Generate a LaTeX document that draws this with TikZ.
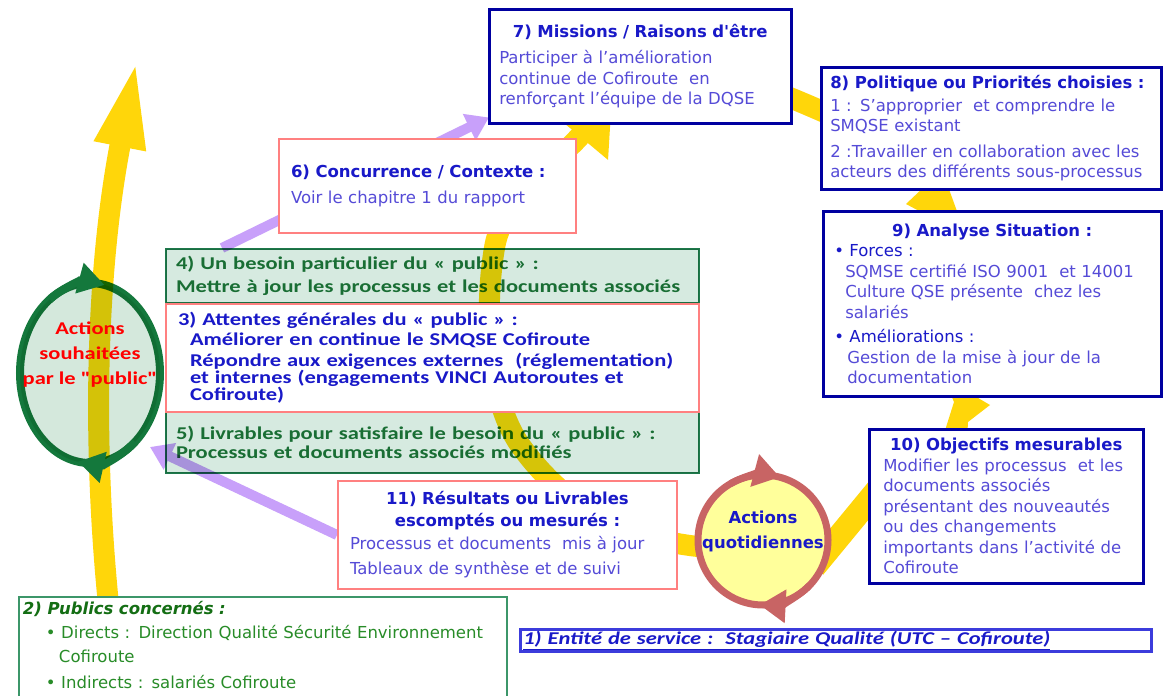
\documentclass[tikz,border=0pt]{standalone}
\usepackage{fontspec}
\setmainfont{DejaVu Sans}
\newfontfamily\calfont[FakeStretch=1.25]{Carlito}
\usepackage{xcolor}
\usetikzlibrary{arrows.meta,calc,positioning,shapes.geometric}
\pgfdeclarelayer{back}
\pgfsetlayers{back,main}

\definecolor{navy}{RGB}{0,0,160}
\definecolor{ttlblue}{RGB}{25,25,200}
\definecolor{txtblue}{RGB}{85,75,215}
\definecolor{pinkline}{RGB}{255,128,128}
\definecolor{grline}{RGB}{30,120,75}
\definecolor{grfill}{RGB}{214,234,224}
\definecolor{grtext}{RGB}{30,120,60}
\definecolor{pubgreen}{RGB}{40,140,40}
\definecolor{pubtitle}{RGB}{20,110,20}
\definecolor{publine}{RGB}{60,150,105}
\definecolor{yel}{RGB}{255,214,10}
\definecolor{purp}{RGB}{200,160,250}
\definecolor{circgreen}{RGB}{20,120,60}
\definecolor{circfill}{RGB}{212,232,220}
\definecolor{qfill}{RGB}{255,255,155}
\definecolor{qline}{RGB}{200,100,100}
\definecolor{entblue}{RGB}{60,60,220}

\newcommand{\bodyfont}{\fontsize{16.5}{20.5}\selectfont}
\newcommand{\calbody}{\calfont\bfseries\fontsize{18}{19.5}\selectfont}
\newcommand{\ttl}[1]{{\bfseries\color{ttlblue}#1}}
\newcommand{\cttl}[1]{\makebox[\hsize][c]{\bfseries\color{ttlblue}#1}}

\tikzset{
  box/.style={anchor=north west, fill=white, align=left, inner ysep=2pt, font=\bodyfont, text=txtblue},
  bluebox/.style={box, draw=navy, line width=2.5pt, inner xsep=10pt},
  pinkbox/.style={box, draw=pinkline, line width=2pt, inner xsep=12pt},
  greenbox/.style={box, draw=grline, fill=grfill, line width=2pt, inner xsep=10pt, font=\calbody, text=grtext},
  yelline/.style={draw=yel, line width=21pt},
  purparrow/.style={draw=purp, line width=10pt, -{Triangle[length=22pt,width=28pt]}},
}

\begin{document}
\begin{tikzpicture}[x=1pt,y=-1pt]
\useasboundingbox (0,0) rectangle (1163,696);

% green boxes and circle, yellow shows through
\begin{scope}[blend mode=multiply]
  \node[greenbox, minimum width=533pt, minimum height=54pt, text width=513pt] (b4) at (165,248)
    {4) Un besoin particulier du « public » :\\[3.5pt]
     Mettre à jour les processus et les documents associés};
  \node[greenbox, minimum width=533pt, minimum height=61pt, text width=513pt] (b5) at (165,411)
    {5) Livrables pour satisfaire le besoin du « public » :\\
     Processus et documents associés modifiés};
  \node[ellipse, draw=circgreen, fill=circfill, line width=8pt, minimum width=140pt,
        minimum height=180pt, inner sep=0pt] (actL) at (90,373) {};
\end{scope}
\node[align=center, text=red, font=\calfont\bfseries\fontsize{18}{25}\selectfont] (actLtxt)
  at ($(actL.center)+(0,-18)$) {Actions\\souhaitées\\par le "public"};
% arrow tips on the green circle
\draw[circgreen, line width=8pt, -{Triangle[length=26pt,width=30pt]}]
  ([shift={(235:70 and 90)}]actL.center) arc[start angle=235, end angle=282, x radius=70, y radius=90];
\draw[circgreen, line width=8pt, -{Triangle[length=26pt,width=30pt]}]
  ([shift={(50:70 and 90)}]actL.center) arc[start angle=50, end angle=100, x radius=70, y radius=90];

% 3) attentes
\node[pinkbox, font=\calbody\fontsize{18}{17}\selectfont, text=ttlblue, minimum width=533pt,
      minimum height=108pt, text width=509pt] (b3) at (165,303)
  {3) Attentes générales du « public » :\\[3pt]
   \hspace*{12pt}Améliorer en continue le SMQSE Cofiroute\\[4pt]
   \hspace*{12pt}Répondre aux exigences externes\ \ (réglementation)\\
   \hspace*{12pt}et internes (engagements VINCI Autoroutes et\\
   \hspace*{12pt}Cofiroute)};

% top and right boxes
\node[pinkbox, minimum width=297pt, minimum height=94pt, text width=273pt] (b6) at (278,138)
  {\ttl{6) Concurrence / Contexte :}\\[5pt]
   Voir le chapitre 1 du rapport};
\node[bluebox, minimum width=302pt, minimum height=114pt, text width=282pt] (b7) at (488,8)
  {\cttl{7) Missions / Raisons d\textquotesingle être}\\[6pt]
   Participer à l’amélioration\\
   continue de Cofiroute\ \ en\\
   renforçant l’équipe de la DQSE};
\node[bluebox, inner xsep=9pt, minimum width=340pt, minimum height=122pt, text width=322pt] (b8) at (820,66)
  {\ttl{8) Politique ou Priorités choisies :}\\[2pt]
   1 : S’approprier\ \ et comprendre le\\
   SMQSE existant\\[5pt]
   2 :Travailler en collaboration avec les\\
   acteurs des différents sous-processus};
\node[bluebox, inner xsep=11pt, minimum width=338pt, minimum height=185pt, text width=316pt] (b9) at (822,210)
  {\cttl{9) Analyse Situation :}\\
   {\color{ttlblue}• Forces :}\\
   \hspace*{11pt}SQMSE certifié ISO 9001\ \ et 14001\\
   \hspace*{11pt}Culture QSE présente\ \ chez les\\
   \hspace*{11pt}salariés\\[4pt]
   {\color{ttlblue}• Améliorations :}\\
   \hspace*{13pt}Gestion de la mise à jour de la\\
   \hspace*{13pt}documentation};
\node[bluebox, inner xsep=14pt, minimum width=274pt, minimum height=154pt, text width=246pt] (b10) at (868,428)
  {\cttl{10) Objectifs mesurables}\\
   Modifier les processus\ \ et les\\
   documents associés\\
   présentant des nouveautés\\
   ou des changements\\
   importants dans l’activité de\\
   Cofiroute};

% bottom boxes
\node[pinkbox, minimum width=339pt, minimum height=108pt, text width=315pt] (b11) at (337,480)
  {\cttl{11) Résultats ou Livrables}\\[1.5pt]
   \cttl{escomptés ou mesurés :}\\[2.5pt]
   Processus et documents\ \ mis à jour\\[4.5pt]
   Tableaux de synthèse et de suivi};
\node[box, draw=publine, line width=2pt, inner xsep=4pt, text=pubgreen, minimum width=488pt,
      minimum height=108pt, text width=480pt] (b2) at (18,596)
  {{\bfseries\itshape\color{pubtitle}2) Publics concernés :}\\[4pt]
   \hspace*{23pt}• Directs : Direction Qualité Sécurité Environnement\\[3pt]
   \hspace*{36pt}Cofiroute\\[6pt]
   \hspace*{23pt}• Indirects : salariés Cofiroute\par\vspace*{12pt}};
\node[draw=entblue, line width=2.5pt, fill=white, anchor=north west, minimum width=631pt,
      minimum height=22pt, inner xsep=3pt, inner ysep=0pt, text width=625pt, align=left,
      font=\calfont\bfseries\itshape\fontsize{18}{18}\selectfont, text=ttlblue] (b1) at (519,628)
  {\underline{1) Entité de service :\ \ Stagiaire Qualité (UTC – Cofiroute)}};

% actions quotidiennes
\node[circle, draw=qline, fill=qfill, line width=7pt, minimum size=130pt, inner sep=0pt] (actQ) at (763,540) {};
\node[align=center, text=ttlblue, font=\bfseries\fontsize{16.5}{25}\selectfont] (actQtxt)
  at ($(actQ.center)+(0,-9)$) {Actions\\quotidiennes};
\draw[qline, line width=7pt, -{Triangle[length=26pt,width=32pt]}]
  ([shift={(-120:65)}]actQ.center) arc[start angle=-120, end angle=-75, radius=65];
\draw[qline, line width=7pt, -{Triangle[length=26pt,width=32pt]}]
  ([shift={(45:65)}]actQ.center) arc[start angle=45, end angle=93, radius=65];

\begin{pgfonlayer}{back}
  \fill[white] (0,0) rectangle (1163,696);
  % yellow spiral
  \draw[yelline, -{Triangle[length=90pt,width=46pt]}] (122,710) .. controls (92,520) and (90,300) .. (137,58);
  \draw[yelline, -{Triangle[length=50pt,width=70pt]}] (740,549) .. controls (620,548) and (560,500) .. (520,445)
    .. controls (485,395) and (485,300) .. (495,245) .. controls (505,195) and (560,160) .. (612,98);
  \draw[yelline] (750,82) .. controls (790,97) and (815,108) .. (860,128);
  \fill[yel] (906,204) -- (942,170) -- (966,236) -- cycle;
  \fill[yel] (990,405) -- (944,378) -- (954,402) -- (942,440) -- (967,440) -- (968,422) -- cycle;
  \draw[yelline, line width=24pt] (814,567) -- (884,482);
  % purple links
  \coordinate (p4) at ($(b4.north west)+(57,0)$);
  \coordinate (tipL) at (150,447);
  \draw[purparrow] (p4) -- ($(b7.south west)+(1,-7)$);
  \draw[purparrow] (b11.west) -- (tipL);
\end{pgfonlayer}
\end{tikzpicture}
\end{document}
